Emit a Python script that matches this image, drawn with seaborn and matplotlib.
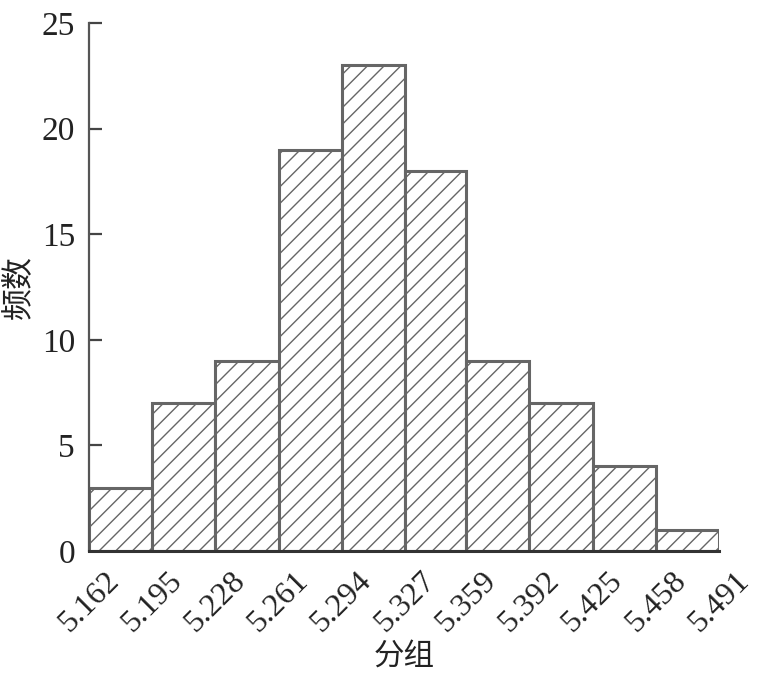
import numpy as np
import matplotlib
matplotlib.use("Agg")
import matplotlib.pyplot as plt
import seaborn as sns

# 分组边界与频数
bin_edges = [5.162, 5.195, 5.228, 5.261, 5.294, 5.327, 5.359, 5.392, 5.425, 5.458, 5.491]
edge_labels = ["5.162", "5.195", "5.228", "5.261", "5.294", "5.327",
               "5.359", "5.392", "5.425", "5.458", "5.491"]
counts = [3, 7, 9, 19, 23, 18, 9, 7, 4, 1]
y_ticks = [0, 5, 10, 15, 20, 25]

sns.set_style("ticks")
plt.rcParams["font.family"] = ["Liberation Serif", "Noto Sans CJK SC"]
plt.rcParams["hatch.linewidth"] = 1.0

edge_gray = "#666666"

fig = plt.figure(figsize=(7.67, 6.76), dpi=100)
ax = fig.add_axes([0.116, 0.185, 0.8215, 0.781])

centers = [(a + b) / 2 for a, b in zip(bin_edges[:-1], bin_edges[1:])]
sns.histplot(x=centers, weights=counts, bins=bin_edges, ax=ax,
             color="white", alpha=1, edgecolor=edge_gray, linewidth=2.2,
             hatch="//")

ax.set_xlim(bin_edges[0], bin_edges[-1])
ax.set_ylim(0, 25)
ax.set_xticks(bin_edges)
ax.set_xticklabels(edge_labels, rotation=45, ha="center")
ax.set_yticks(y_ticks)

ax.tick_params(axis="x", length=0, pad=11, labelsize=23, colors="#222222")
ax.tick_params(axis="y", direction="in", length=9, width=1.6, pad=10,
               labelsize=24, colors="#444444", labelcolor="#222222")

for side in ["top", "right"]:
    ax.spines[side].set_visible(False)
ax.spines["left"].set_color("#555555")
ax.spines["left"].set_linewidth(1.6)
ax.spines["bottom"].set_color("#333333")
ax.spines["bottom"].set_linewidth(2.2)

ax.set_xlabel("分组", fontsize=22, family=["Noto Sans CJK SC"], labelpad=3, color="#222222")
ax.set_ylabel("频数", fontsize=23, family=["Noto Sans CJK SC"], labelpad=5, color="#222222")

fig.savefig("out.png", dpi=100)
